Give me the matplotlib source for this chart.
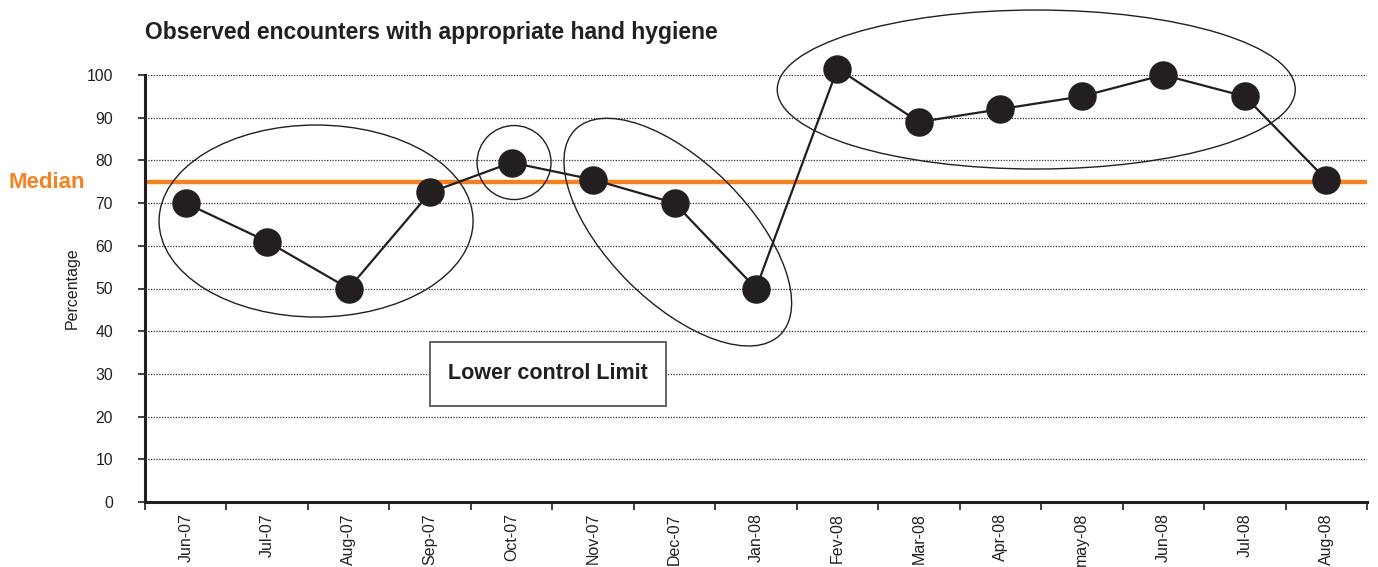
import matplotlib.pyplot as plt
from matplotlib.patches import Ellipse, Rectangle
from matplotlib.transforms import ScaledTranslation

plt.rcParams['font.family'] = ['Liberation Sans', 'DejaVu Sans']

months = ['Jun-07', 'Jul-07', 'Aug-07', 'Sep-07', 'Oct-07', 'Nov-07', 'Dec-07', 'Jan-08',
          'Fev-08', 'Mar-08', 'Apr-08', 'may-08', 'Jun-08', 'Jul-08', 'Aug-08']
pct = [70, 61, 50, 72.5, 79.5, 75.5, 70, 50, 101.5, 89, 92, 95, 100, 95, 75.5]
median = 75
yticks = list(range(0, 101, 10))

txt = '#231f20'
orange = '#f58220'

fig = plt.figure(figsize=(13.78, 5.67), dpi=100)
ax = fig.add_axes([145 / 1378, 65 / 567, 1222 / 1378, 427 / 567])

x = list(range(len(months)))
ax.set_xlim(-0.5, len(months) - 0.5)
ax.set_ylim(0, 100)

# dotted grid
for v in yticks[1:]:
    ax.axhline(v, color='#333333', lw=0.9, ls=(0, (1, 1.2)), zorder=1)

ax.axhline(median, color=orange, lw=3.2, zorder=2)

ax.plot(x, pct, color=txt, lw=1.6, marker='o', ms=19.5, mfc=txt, mec=txt,
        zorder=5, clip_on=False)

# spines / ticks
for s in ['top', 'right']:
    ax.spines[s].set_visible(False)
for s in ['left', 'bottom']:
    ax.spines[s].set_linewidth(2.2)
    ax.spines[s].set_color(txt)

ax.set_yticks(yticks)
ax.tick_params(axis='y', length=5, width=1.2, color=txt, labelsize=11.3,
               labelcolor=txt, pad=18)
ax.set_xticks([i - 0.5 for i in range(len(months) + 1)])
ax.set_xticklabels([])
ax.set_xticks(x, minor=True)
ax.set_xticklabels(months, minor=True, rotation=90, fontsize=11.5, color=txt)
ax.tick_params(axis='x', which='major', length=6, width=1.2, color=txt)
ax.tick_params(axis='x', which='minor', length=0, pad=8)

ax.set_ylabel('Percentage', fontsize=11.5, color=txt)
ax.yaxis.set_label_coords(-0.053, 0.5)

fig.text(145 / 1378, 1 - 33 / 567, 'Observed encounters with appropriate hand hygiene',
         fontsize=16.5, fontweight='bold', color=txt, ha='left', va='center')
fig.text(8 / 1378, 1 - 182 / 567, 'Median', fontsize=16, fontweight='bold',
         color=orange, ha='left', va='center')

# Lower control limit box
ax.add_patch(Rectangle((3.0, 22.5), 2.9, 15, facecolor='white', edgecolor='#555555',
                       lw=1.3, zorder=3))
ax.text(4.45, 30, 'Lower control Limit', fontsize=15.5, fontweight='bold', color=txt,
        ha='center', va='center', zorder=4)

# ellipses: centre in data units, size in pixels
ellipses = [
    (1.6, 65.8, 314, 192, 0),
    (4.03, 79.5, 74, 74, 0),
    (6.04, 63.2, 290, 140, -45),
    (10.44, 96.6, 518, 159, 0),
]
for cx, cy, w, h, ang in ellipses:
    tr = fig.dpi_scale_trans + ScaledTranslation(cx, cy, ax.transData)
    ax.add_patch(Ellipse((0, 0), w / 100, h / 100, angle=ang, transform=tr,
                         fill=False, edgecolor=txt, lw=1.0, zorder=4, clip_on=False))

fig.savefig('out.png', dpi=100)
